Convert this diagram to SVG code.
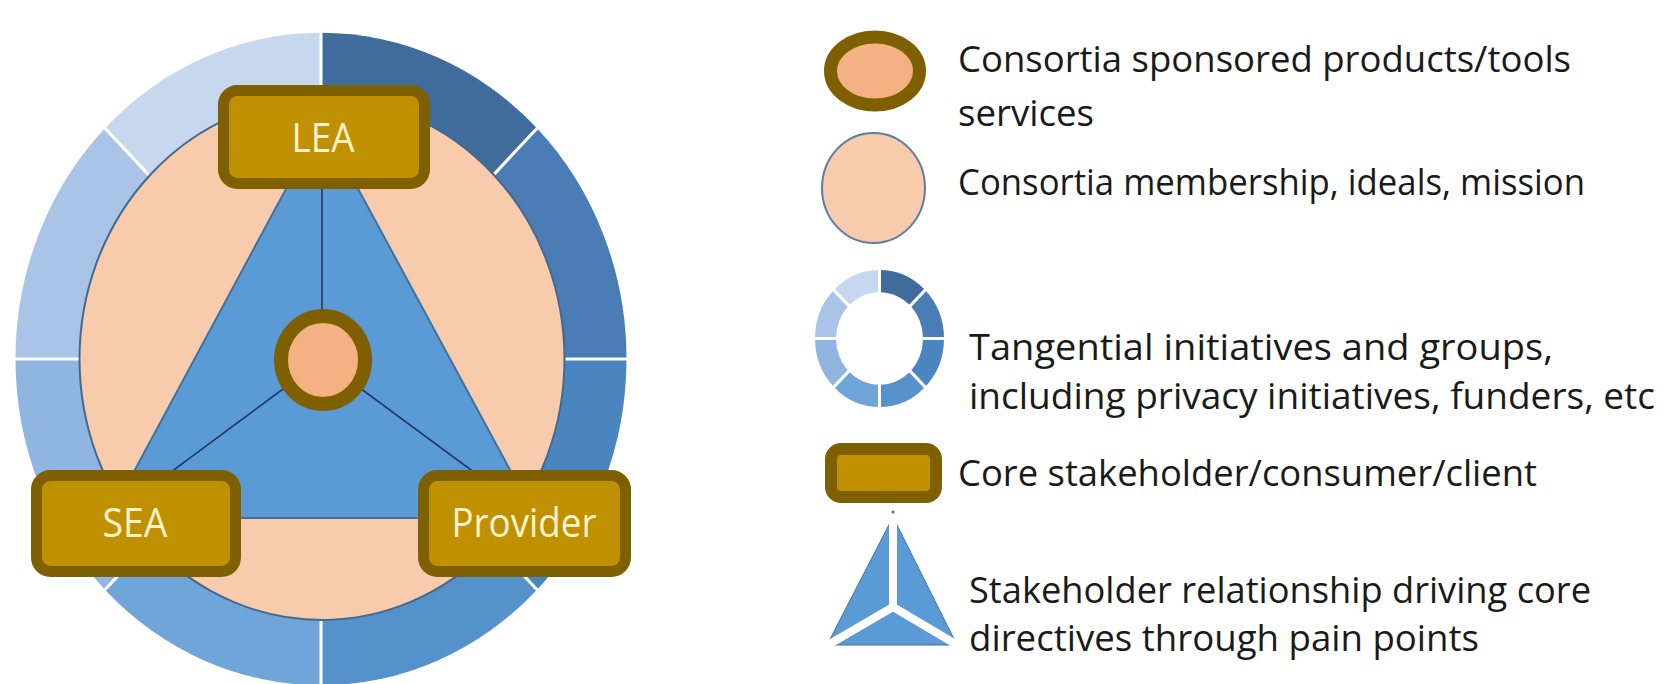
<svg xmlns="http://www.w3.org/2000/svg" width="1674" height="684" viewBox="0 0 1674 684">
<style>
.w1{fill:#3f6c9b}.w2{fill:#4a7db5}.w3{fill:#4b85c0}.w4{fill:#5592cc}
.w5{fill:#70a5da}.w6{fill:#90b5e0}.w7{fill:#a9c4e6}.w8{fill:#c7d8ee}
.div{stroke:#ffffff;stroke-width:3;fill:none}
.box{fill:#bf9000;stroke:#7f6000;stroke-width:11}
.bt{font-family:"Open Sans","Liberation Sans",sans-serif;font-size:40px;fill:#fff2cc;text-anchor:middle}
.lt{font-family:"Open Sans","Liberation Sans",sans-serif;font-size:37px;fill:#1a1a1a}
.spoke{stroke:#1f3864;stroke-width:1.6}
</style>
<rect width="1674" height="684" fill="#ffffff"/>
<g id="ring" transform="translate(321,359) scale(1,1.068)">
<path class="w1" d="M0,0 L0,-305.5 A305.5,305.5 0 0 1 216.02,-216.02 Z"/>
<path class="w2" d="M0,0 L216.02,-216.02 A305.5,305.5 0 0 1 305.5,0 Z"/>
<path class="w3" d="M0,0 L305.5,0 A305.5,305.5 0 0 1 216.02,216.02 Z"/>
<path class="w4" d="M0,0 L216.02,216.02 A305.5,305.5 0 0 1 0,305.5 Z"/>
<path class="w5" d="M0,0 L0,305.5 A305.5,305.5 0 0 1 -216.02,216.02 Z"/>
<path class="w6" d="M0,0 L-216.02,216.02 A305.5,305.5 0 0 1 -305.5,0 Z"/>
<path class="w7" d="M0,0 L-305.5,0 A305.5,305.5 0 0 1 -216.02,-216.02 Z"/>
<path class="w8" d="M0,0 L-216.02,-216.02 A305.5,305.5 0 0 1 0,-305.5 Z"/>
<path class="div" d="M0,0 L0,-306 M0,0 L216.4,-216.4 M0,0 L306,0 M0,0 L216.4,216.4 M0,0 L0,306 M0,0 L-216.4,216.4 M0,0 L-306,0 M0,0 L-216.4,-216.4"/>
</g>
<g id="membership">
<ellipse cx="322" cy="359" rx="242.5" ry="261" fill="#f8cbad" stroke="#44698f" stroke-width="2"/>
</g>
<g id="relationship">
<polygon points="322,122 109,518 536,518" fill="#5b9bd5" stroke="#41719c" stroke-width="2"/>
</g>
<g id="connectors">
<line class="spoke" x1="322" y1="360" x2="322" y2="122"/>
<line class="spoke" x1="322" y1="360" x2="109" y2="518"/>
<line class="spoke" x1="322" y1="360" x2="536" y2="518"/>
</g>
<g id="core">
<ellipse cx="323" cy="360" rx="42" ry="44" fill="#f4b183" stroke="#7f6000" stroke-width="14"/>
</g>
<g id="lea">
<rect class="box" x="223.5" y="90.5" width="201" height="93" rx="14"/>
<text class="bt" x="323" y="152" textLength="63" lengthAdjust="spacingAndGlyphs">LEA</text>
</g>
<g id="sea">
<rect class="box" x="36.5" y="475.5" width="199" height="96" rx="14"/>
<text class="bt" x="135" y="537" textLength="65" lengthAdjust="spacingAndGlyphs">SEA</text>
</g>
<g id="provider">
<rect class="box" x="423.5" y="475.5" width="202" height="96" rx="14"/>
<text class="bt" x="524" y="537" textLength="145" lengthAdjust="spacingAndGlyphs">Provider</text>
</g>
<g id="legend-products">
<ellipse cx="875" cy="71" rx="44.5" ry="34" fill="#f4b183" stroke="#7f6000" stroke-width="13"/>
<text class="lt" x="958" y="72" textLength="613" lengthAdjust="spacingAndGlyphs">Consortia sponsored products/tools</text>
<text class="lt" x="958" y="126" textLength="136" lengthAdjust="spacingAndGlyphs">services</text>
</g>
<g id="legend-membership">
<ellipse cx="873.5" cy="188" rx="51.5" ry="55" fill="#f8cbad" stroke="#5a7ea6" stroke-width="2"/>
<text class="lt" x="958" y="195" textLength="627" lengthAdjust="spacingAndGlyphs">Consortia membership, ideals, mission</text>
</g>
<g id="legend-tangential">
<g transform="translate(879.5,338.5) scale(1,1.062)">
<path class="w1" d="M0,0 L0,-64.5 A64.5,64.5 0 0 1 45.61,-45.61 Z"/>
<path class="w2" d="M0,0 L45.61,-45.61 A64.5,64.5 0 0 1 64.5,0 Z"/>
<path class="w3" d="M0,0 L64.5,0 A64.5,64.5 0 0 1 45.61,45.61 Z"/>
<path class="w4" d="M0,0 L45.61,45.61 A64.5,64.5 0 0 1 0,64.5 Z"/>
<path class="w5" d="M0,0 L0,64.5 A64.5,64.5 0 0 1 -45.61,45.61 Z"/>
<path class="w6" d="M0,0 L-45.61,45.61 A64.5,64.5 0 0 1 -64.5,0 Z"/>
<path class="w7" d="M0,0 L-64.5,0 A64.5,64.5 0 0 1 -45.61,-45.61 Z"/>
<path class="w8" d="M0,0 L-45.61,-45.61 A64.5,64.5 0 0 1 0,-64.5 Z"/>
<circle r="43.5" fill="#ffffff"/>
<path class="div" d="M0,0 L0,-65 M0,0 L46,-46 M0,0 L65,0 M0,0 L46,46 M0,0 L0,65 M0,0 L-46,46 M0,0 L-65,0 M0,0 L-46,-46"/>
</g>
<text class="lt" x="969" y="360" textLength="584" lengthAdjust="spacingAndGlyphs">Tangential initiatives and groups,</text>
<text class="lt" x="969" y="409" textLength="686" lengthAdjust="spacingAndGlyphs">including privacy initiatives, funders, etc</text>
</g>
<g id="legend-stakeholder">
<rect x="831" y="449" width="105" height="48" rx="10" fill="#bf9000" stroke="#7f6000" stroke-width="12"/>
<text class="lt" x="958" y="486" textLength="579" lengthAdjust="spacingAndGlyphs">Core stakeholder/consumer/client</text>
</g>
<g id="legend-relationship">
<polygon points="893,517 827,645 957,645" fill="#5b9bd5" stroke="#41719c" stroke-width="1"/>
<path d="M893,607 L893,512 M893,607 L821,649 M893,607 L964,649" stroke="#ffffff" stroke-width="8" fill="none"/>
<circle cx="893" cy="512" r="1.5" fill="#41719c"/>
<text class="lt" x="969" y="603" textLength="622" lengthAdjust="spacingAndGlyphs">Stakeholder relationship driving core</text>
<text class="lt" x="969" y="651" textLength="510" lengthAdjust="spacingAndGlyphs">directives through pain points</text>
</g>
</svg>
